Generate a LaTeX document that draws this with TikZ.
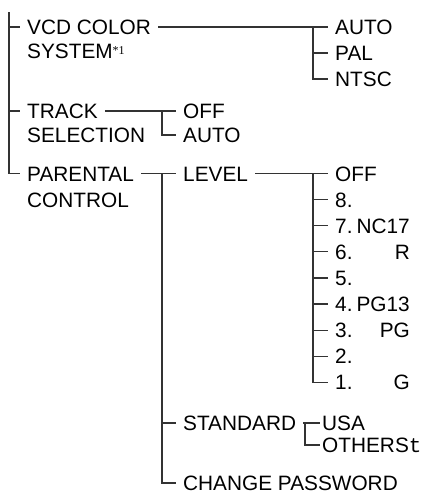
\documentclass[tikz,border=0pt]{standalone}
\usepackage{fontspec}
\setmainfont{Liberation Sans}
\newfontfamily\monofont{Liberation Mono}
\newfontfamily\seriffont{Liberation Serif}
\usetikzlibrary{positioning, calc}
\tikzset{
	item/.style  ={font=\fontsize{20.8}{23.5}\selectfont, text height=15pt, text depth=0pt, inner xsep=7pt, inner ysep=0pt, anchor=west},
	tight/.style ={item, inner xsep=2pt},
	branch/.style={line width=1.2pt, draw=black!80},
}
\begin{document}
\begin{tikzpicture}[x=1pt, y=-1pt]
	\useasboundingbox (0,0) rectangle (421,498);
	% first level
	\coordinate (spine) at (9,12);
	\node[item] (vcd) at (20,27) {VCD COLOR};
	\node[item] (vcdb) at (20,50.5) {SYSTEM{\seriffont\fontsize{12}{12}\selectfont\raisebox{4pt}{*1}}};
	\node[item] (trk) at (20,111) {TRACK};
	\node[item] (trkb) at (20,135) {SELECTION};
	\node[item] (par) at (20,173.5) {PARENTAL};
	\node[item] (parb) at (20,199.5) {CONTROL};
	\draw[branch] (spine) |- (par.west);
	\draw[branch] (spine |- vcd.west) -- (vcd.west);
	\draw[branch] (spine |- trk.west) -- (trk.west);
	% colour system
	\node[item] (auto) at (328,27) {AUTO};
	\node[item] (pal) at (328,53) {PAL};
	\node[item] (ntsc) at (328,79) {NTSC};
	\coordinate (vj) at (313,27);
	\draw[branch] (vcd.east) -- (auto.west);
	\draw[branch] (vj) |- (ntsc.west);
	\draw[branch] (vj |- pal.west) -- (pal.west);
	% track selection
	\node[item] (off) at (176,111) {OFF};
	\node[item] (tauto) at (176,135) {AUTO};
	\coordinate (tj) at (162,111);
	\draw[branch] (trk.east) -- (off.west);
	\draw[branch] (tj) |- (tauto.west);
	% parental control
	\node[item] (lvl) at (176,173.5) {LEVEL};
	\node[item] (std) at (176,423) {STANDARD};
	\node[item] (chg) at (176,483) {CHANGE PASSWORD};
	\coordinate (pj) at (162,173.5);
	\draw[branch] (par.east) -- (lvl.west);
	\draw[branch] (pj) |- (chg.west);
	\draw[branch] (pj |- std.west) -- (std.west);
	% level list
	\node[item] (loff) at (328,173.5) {OFF};
	\coordinate (lj) at (313,173.5);
	\draw[branch] (lvl.east) -- (loff.west);
	\foreach \n [count=\k] in {8.,7.,6.,5.,4.,3.,2.,1.} {
		\node[item] (lv\k) at (328,173.5+26.1*\k) {\n};
	}
	\foreach \k in {1,...,7} {
		\draw[branch] (lj |- lv\k.west) -- (lv\k.west);
	}
	\draw[branch] (lj) |- (lv8.west);
	\foreach \k/\r in {2/NC17, 3/R, 5/PG13, 6/PG, 8/G} {
		\node[item, anchor=east] (rt\k) at (lv\k.west -| 417,0) {\r};
	}
	% standard
	\node[tight] (usa) at (320,423) {USA};
	\node[tight] (oth) at (320,445) {OTHERS{\monofont t}};
	\coordinate (sj) at (305,423);
	\draw[branch] (std.east) -- (usa.west);
	\draw[branch] (sj) |- (oth.west);
\end{tikzpicture}
\end{document}
